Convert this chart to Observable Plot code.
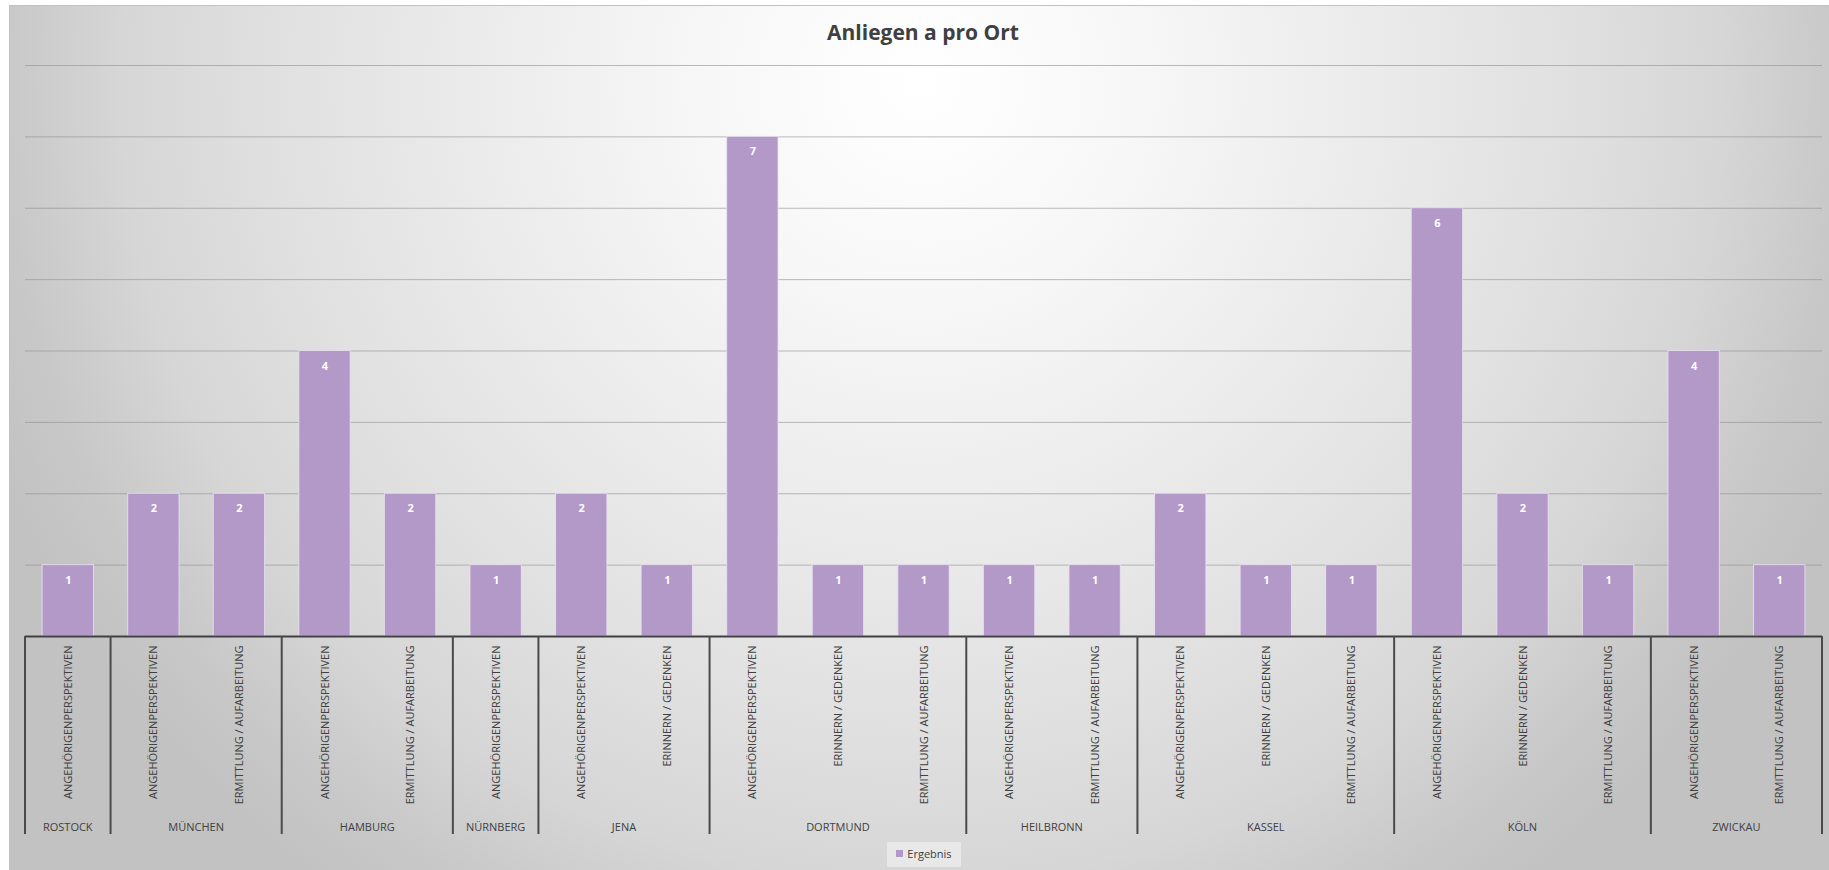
<!DOCTYPE html>
<html>
<head>
<meta charset="utf-8">
<script src="https://cdn.jsdelivr.net/npm/d3@7"></script>
<script src="https://cdn.jsdelivr.net/npm/@observablehq/plot@0.6"></script>
<style>
  body { margin: 0; background: #ffffff; font-family: "Open Sans", sans-serif; }
  #chart { position: relative; width: 1829px; height: 870px; overflow: hidden; background: #ffffff; }
  #frame {
    position: absolute; left: 9px; top: 5px; width: 1840px; height: 880px;
    border-left: 1px solid #c2c2c2; border-top: 1px solid #c2c2c2;
    background: radial-gradient(circle 1000px at 911px 75px,
      #ffffff 0%, #f7f7f7 22%, #ebebeb 45%, #e0e0e0 65%, #d6d6d6 80%, #c8c8c8 92%, #c2c2c2 100%);
  }
  #title {
    position: absolute; left: 0; top: 18px; width: 1846px; text-align: center;
    font-family: "Open Sans", sans-serif; font-weight: 700; font-size: 21px; line-height: 28px; color: #404040;
  }
  #plot { position: absolute; left: 0; top: 50px; }
  #legend {
    position: absolute; left: 0; top: 842px; width: 1848px; display: flex; justify-content: center;
  }
  #legend .box {
    background: rgba(240,240,240,0.7); padding: 3px 9px 4px 9px;
    font-family: "Open Sans", sans-serif; font-size: 11px; color: #404040; line-height: 18px;
  }
  #legend .sw { display: inline-block; width: 7px; height: 7px; background: #b198c8; margin-right: 4px; vertical-align: 1px; }
</style>
</head>
<body>
<div id="chart">
  <div id="frame"></div>
  <div id="title">Anliegen a pro Ort</div>
  <div id="plot"></div>
  <div id="legend"><div class="box"><span class="sw"></span>Ergebnis</div></div>
</div>
<script>
// Orte, Anliegen und Anzahl je Balken
const cities = [
  "ROSTOCK",
  "MÜNCHEN", "MÜNCHEN",
  "HAMBURG", "HAMBURG",
  "NÜRNBERG",
  "JENA", "JENA",
  "DORTMUND", "DORTMUND", "DORTMUND",
  "HEILBRONN", "HEILBRONN",
  "KASSEL", "KASSEL", "KASSEL",
  "KÖLN", "KÖLN", "KÖLN",
  "ZWICKAU", "ZWICKAU"
];
const topics = [
  "ANGEHÖRIGENPERSPEKTIVEN",
  "ANGEHÖRIGENPERSPEKTIVEN", "ERMITTLUNG / AUFARBEITUNG",
  "ANGEHÖRIGENPERSPEKTIVEN", "ERMITTLUNG / AUFARBEITUNG",
  "ANGEHÖRIGENPERSPEKTIVEN",
  "ANGEHÖRIGENPERSPEKTIVEN", "ERINNERN / GEDENKEN",
  "ANGEHÖRIGENPERSPEKTIVEN", "ERINNERN / GEDENKEN", "ERMITTLUNG / AUFARBEITUNG",
  "ANGEHÖRIGENPERSPEKTIVEN", "ERMITTLUNG / AUFARBEITUNG",
  "ANGEHÖRIGENPERSPEKTIVEN", "ERINNERN / GEDENKEN", "ERMITTLUNG / AUFARBEITUNG",
  "ANGEHÖRIGENPERSPEKTIVEN", "ERINNERN / GEDENKEN", "ERMITTLUNG / AUFARBEITUNG",
  "ANGEHÖRIGENPERSPEKTIVEN", "ERMITTLUNG / AUFARBEITUNG"
];
const counts = [1, 2, 2, 4, 2, 1, 2, 1, 7, 1, 1, 1, 1, 2, 1, 1, 6, 2, 1, 4, 1];
const yTicks = [1, 2, 3, 4, 5, 6, 7, 8];

const barColor = "#b299c8";

const rows = counts.map((value, i) => ({
  key: cities[i] + "|" + topics[i],
  city: cities[i],
  topic: topics[i],
  value
}));
const keys = rows.map(d => d.key);
const topicOf = new Map(rows.map(d => [d.key, d.topic]));

// Second axis level: city groups with separators below the baseline
function cityAxis(index, scales, values, dims) {
  const x = scales.x, y = scales.y;
  const dom = x.domain();
  const step = dom.length > 1 ? x(dom[1]) - x(dom[0]) : dims.width;
  const bw = typeof x.bandwidth === "function" ? x.bandwidth() : step * 0.6;
  const half = (step - bw) / 2;
  const y0 = y(0);
  const g = d3.create("svg:g");
  const groups = d3.groups(rows, d => d.city);
  const edges = [];
  groups.forEach(([city, items], gi) => {
    const x0 = x(items[0].key) - half;
    const x1 = x(items[items.length - 1].key) + bw + half;
    edges.push(x0);
    if (gi === groups.length - 1) edges.push(x1);
    g.append("text")
      .attr("x", (x0 + x1) / 2)
      .attr("y", y0 + 191)
      .attr("dy", "0.35em")
      .attr("text-anchor", "middle")
      .attr("fill", "#404040")
      .attr("font-size", 11)
      .text(city);
  });
  edges.forEach(ex => {
    g.append("line")
      .attr("x1", ex).attr("x2", ex)
      .attr("y1", y0).attr("y2", y0 + 198)
      .attr("stroke", "#4a4a4a")
      .attr("stroke-width", 2);
  });
  return g.node();
}

const plot = Plot.plot({
  width: 1829,
  height: 790,
  marginLeft: 25,
  marginRight: 7,
  marginTop: 15,
  marginBottom: 204,
  style: { background: "transparent", fontFamily: "Open Sans, sans-serif", fontSize: "11px", color: "#404040" },
  x: {
    type: "band",
    domain: keys,
    paddingInner: 0.4,
    paddingOuter: 0.2,
    round: false,
    tickFormat: k => topicOf.get(k),
    tickRotate: -90,
    tickSize: 0,
    tickPadding: 9,
    label: null
  },
  y: { domain: [0, 8], axis: null },
  marks: [
    Plot.ruleY(yTicks, { stroke: "#8f8f8f", strokeOpacity: 0.6 }),
    Plot.barY(rows, { x: "key", y: "value", fill: barColor, stroke: "#ece4f3", strokeOpacity: 0.8, strokeWidth: 1 }),
    Plot.text(rows, { x: "key", y: "value", text: d => String(d.value), dy: 15, fill: "#ffffff", fontWeight: "bold", fontSize: 11 }),
    Plot.ruleY([0], { stroke: "#404040", strokeWidth: 2 }),
    cityAxis
  ]
});
document.getElementById("plot").appendChild(plot);
</script>
</body>
</html>
